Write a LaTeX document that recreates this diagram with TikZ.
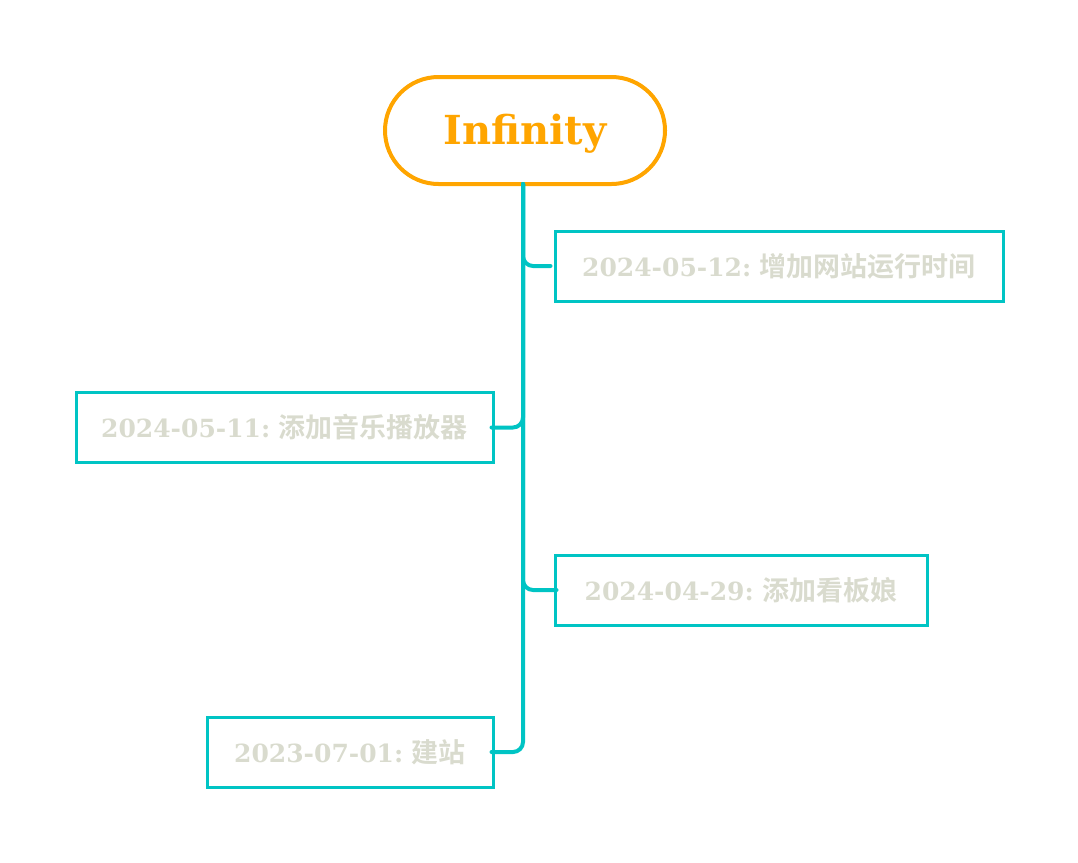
\documentclass[tikz,border=0pt]{standalone}
\usepackage{fontspec}
\setmainfont{DejaVu Serif}
\newfontfamily\cjk[BoldFont={Noto Sans CJK SC Bold}]{Noto Sans CJK SC}
\usetikzlibrary{shapes.misc}
\definecolor{tealc}{RGB}{0,196,196}
\definecolor{orangec}{RGB}{255,165,0}
\definecolor{greyt}{RGB}{217,219,206}
\tikzset{
  rootnode/.style={rounded rectangle, draw=orangec, line width=4pt, minimum width=280pt, minimum height=107pt, inner sep=0pt, text=orangec, font=\fontsize{40}{48}\selectfont\bfseries},
  roottext/.style={inner sep=0pt, text=orangec, font=\fontsize{40}{48}\selectfont\bfseries},
  itembox/.style={rectangle, draw=tealc, line width=3pt, minimum height=70pt, inner sep=0pt, text=greyt, font=\fontsize{25}{30}\selectfont\bfseries},
  branch/.style={draw=tealc, line width=4pt, rounded corners=10pt, line cap=round}
}
\newcommand{\zh}[1]{\hspace{-3pt}{\cjk\bfseries\fontsize{27}{30}\selectfont #1}}
\begin{document}
\begin{tikzpicture}[x=1pt,y=-1pt]
\useasboundingbox (0,0) rectangle (1078,862);
\node[rootnode] (root) at (525,130.5) {\phantom{Infinity}};
\node[roottext] (roottxt) at (525,133.5) {Infinity};
\node[itembox, minimum width=448pt] (b1) at (779,266) {\raisebox{-2pt}{2024-05-12: \zh{增加网站运行时间}}};
\node[itembox, minimum width=417pt] (b2) at (284.5,427.5) {\raisebox{-2pt}{2024-05-11: \zh{添加音乐播放器}}};
\node[itembox, minimum width=372pt] (b3) at (741,590) {\raisebox{-2pt}{2024-04-29: \zh{添加看板娘}}};
\node[itembox, minimum width=286pt] (b4) at (350,752) {\raisebox{-2pt}{2023-07-01: \zh{建站}}};
\coordinate (top) at (523,184);
\draw[branch] (top) |- ([xshift=-3pt]b1.west);
\draw[branch] (top) |- ([xshift=-3pt]b2.east);
\draw[branch] (top) |- ([xshift=3pt]b3.west);
\draw[branch] (top) |- ([xshift=-3pt]b4.east);
\end{tikzpicture}
\end{document}
